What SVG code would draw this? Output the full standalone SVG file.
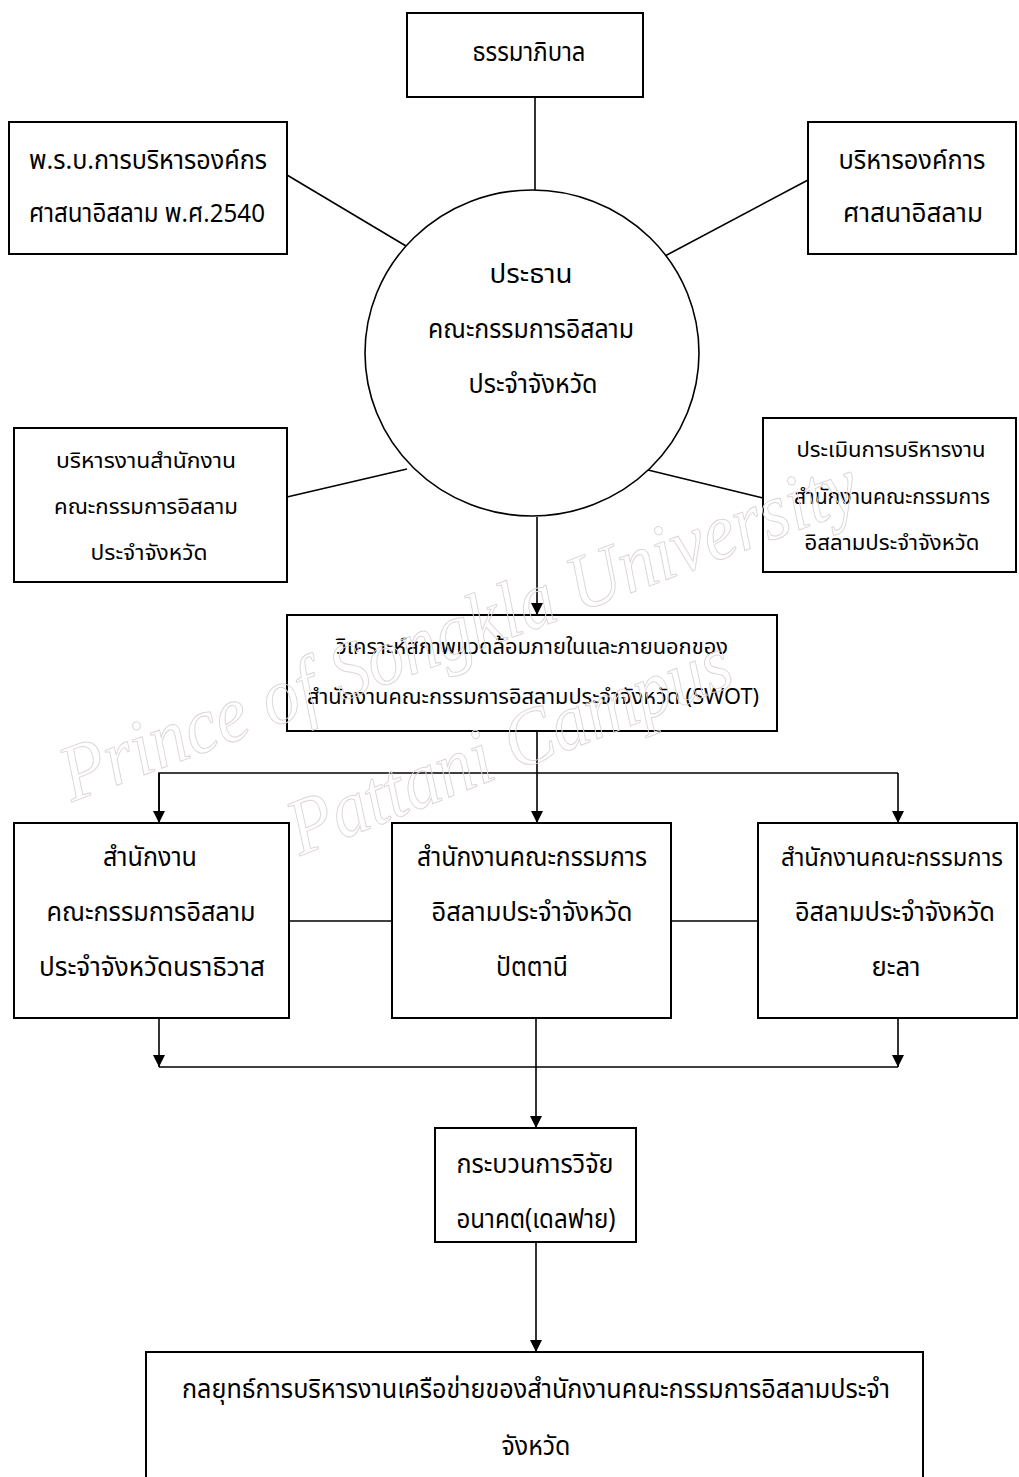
<svg xmlns="http://www.w3.org/2000/svg" width="1019" height="1477" viewBox="0 0 1019 1477">
<style>
.box{fill:#fff;stroke:#000;stroke-width:2}
.ln{fill:none;stroke:#000;stroke-width:1.6}
.t{font-family:"Noto Sans Thai","Noto Serif Thai","Noto Sans","DejaVu Sans",sans-serif;text-anchor:middle;fill:#000}
.l{font-size:26px}
.m{font-size:22px}
.s{font-size:21px}
.b{font-size:27px}
.wm{font-family:"Liberation Serif",serif;font-style:italic;fill:none;stroke:#ddd5d7;stroke-width:1}
</style>
<defs>
<marker id="arr" viewBox="0 0 12 12" refX="12" refY="6" markerWidth="12" markerHeight="12" markerUnits="userSpaceOnUse" orient="auto">
<path d="M0,0 L12,6 L0,12 z" fill="#000"/>
</marker>
</defs>
<rect width="1019" height="1477" fill="#fff"/>
<g id="connectors">
<line class="ln" x1="535" y1="97" x2="535" y2="190"/>
<line class="ln" x1="287" y1="175" x2="406" y2="246"/>
<line class="ln" x1="808" y1="180" x2="665" y2="256"/>
<line class="ln" x1="287" y1="497" x2="407" y2="469"/>
<line class="ln" x1="763" y1="498" x2="648" y2="470"/>
<line class="ln" x1="537" y1="517" x2="537" y2="615" marker-end="url(#arr)"/>
<line class="ln" x1="537" y1="731" x2="537" y2="773"/>
<polyline class="ln" points="159,822 159,773 898,773"/>
<line class="ln" x1="159" y1="773" x2="159" y2="823" marker-end="url(#arr)"/>
<line class="ln" x1="537" y1="773" x2="537" y2="823" marker-end="url(#arr)"/>
<line class="ln" x1="898" y1="773" x2="898" y2="823" marker-end="url(#arr)"/>
<line class="ln" x1="289" y1="921" x2="392" y2="921"/>
<line class="ln" x1="671" y1="921" x2="758" y2="921"/>
<line class="ln" x1="159" y1="1018" x2="159" y2="1067" marker-end="url(#arr)"/>
<line class="ln" x1="898" y1="1018" x2="898" y2="1067" marker-end="url(#arr)"/>
<line class="ln" x1="159" y1="1067" x2="898" y2="1067"/>
<line class="ln" x1="536" y1="1018" x2="536" y2="1128" marker-end="url(#arr)"/>
<line class="ln" x1="536" y1="1242" x2="536" y2="1352" marker-end="url(#arr)"/>
</g>
<g id="n-governance">
<rect class="box" x="407" y="13" width="236" height="84"/>
<text class="t l" x="529" y="61" textLength="113" lengthAdjust="spacingAndGlyphs">ธรรมาภิบาล</text>
</g>
<g id="n-act">
<rect class="box" x="9" y="122" width="278" height="132"/>
<text class="t l" x="148" y="169" textLength="238" lengthAdjust="spacingAndGlyphs">พ.ร.บ.การบริหารองค์กร</text>
<text class="t l" x="147" y="222" textLength="236" lengthAdjust="spacingAndGlyphs">ศาสนาอิสลาม พ.ศ.2540</text>
</g>
<g id="n-org">
<rect class="box" x="808" y="122" width="208" height="132"/>
<text class="t l" x="912" y="169" textLength="147" lengthAdjust="spacingAndGlyphs">บริหารองค์การ</text>
<text class="t l" x="913" y="222" textLength="140" lengthAdjust="spacingAndGlyphs">ศาสนาอิสลาม</text>
</g>
<g id="n-chair">
<ellipse class="box" cx="532" cy="353" rx="167" ry="163" style="stroke-width:1.6"/>
<text class="t l" x="531" y="283" textLength="83" lengthAdjust="spacingAndGlyphs">ประธาน</text>
<text class="t l" x="531" y="338" textLength="206" lengthAdjust="spacingAndGlyphs">คณะกรรมการอิสลาม</text>
<text class="t l" x="533" y="393" textLength="129" lengthAdjust="spacingAndGlyphs">ประจำจังหวัด</text>
</g>
<g id="n-manage">
<rect class="box" x="14" y="428" width="273" height="154"/>
<text class="t m" x="146" y="468" textLength="180" lengthAdjust="spacingAndGlyphs">บริหารงานสำนักงาน</text>
<text class="t m" x="146" y="514" textLength="184" lengthAdjust="spacingAndGlyphs">คณะกรรมการอิสลาม</text>
<text class="t m" x="149" y="560" textLength="117" lengthAdjust="spacingAndGlyphs">ประจำจังหวัด</text>
</g>
<g id="n-evaluate">
<rect class="box" x="763" y="418" width="253" height="154"/>
<text class="t m" x="891" y="457" textLength="189" lengthAdjust="spacingAndGlyphs">ประเมินการบริหารงาน</text>
<text class="t m" x="892" y="504" textLength="196" lengthAdjust="spacingAndGlyphs">สำนักงานคณะกรรมการ</text>
<text class="t m" x="892" y="550" textLength="175" lengthAdjust="spacingAndGlyphs">อิสลามประจำจังหวัด</text>
</g>
<g id="n-swot">
<rect class="box" x="287" y="615" width="490" height="116"/>
<text class="t s" x="532" y="654" textLength="392" lengthAdjust="spacingAndGlyphs">วิเคราะห์สภาพแวดล้อมภายในและภายนอกของ</text>
<text class="t s" x="533" y="704" textLength="452" lengthAdjust="spacingAndGlyphs">สำนักงานคณะกรรมการอิสลามประจำจังหวัด (SWOT)</text>
</g>
<g id="n-narathiwat">
<rect class="box" x="14" y="823" width="275" height="195"/>
<text class="t b" x="150" y="866" textLength="94" lengthAdjust="spacingAndGlyphs">สำนักงาน</text>
<text class="t b" x="151" y="921" textLength="209" lengthAdjust="spacingAndGlyphs">คณะกรรมการอิสลาม</text>
<text class="t b" x="152" y="976" textLength="226" lengthAdjust="spacingAndGlyphs">ประจำจังหวัดนราธิวาส</text>
</g>
<g id="n-pattani">
<rect class="box" x="392" y="823" width="279" height="195"/>
<text class="t b" x="532" y="866" textLength="230" lengthAdjust="spacingAndGlyphs">สำนักงานคณะกรรมการ</text>
<text class="t b" x="532" y="921" textLength="201" lengthAdjust="spacingAndGlyphs">อิสลามประจำจังหวัด</text>
<text class="t b" x="532" y="976" textLength="72" lengthAdjust="spacingAndGlyphs">ปัตตานี</text>
</g>
<g id="n-yala">
<rect class="box" x="758" y="823" width="259" height="195"/>
<text class="t" x="892" y="866" font-size="24" textLength="222" lengthAdjust="spacingAndGlyphs">สำนักงานคณะกรรมการ</text>
<text class="t b" x="895" y="921" textLength="200" lengthAdjust="spacingAndGlyphs">อิสลามประจำจังหวัด</text>
<text class="t b" x="896" y="976" textLength="49" lengthAdjust="spacingAndGlyphs">ยะลา</text>
</g>
<g id="n-delphi">
<rect class="box" x="435" y="1128" width="201" height="114"/>
<text class="t b" x="535" y="1173" textLength="157" lengthAdjust="spacingAndGlyphs">กระบวนการวิจัย</text>
<text class="t b" x="536" y="1228" textLength="159" lengthAdjust="spacingAndGlyphs">อนาคต(เดลฟาย)</text>
</g>
<g id="n-strategy">
<rect class="box" x="146" y="1352" width="777" height="140"/>
<text class="t b" x="536" y="1398" textLength="708" lengthAdjust="spacingAndGlyphs">กลยุทธ์การบริหารงานเครือข่ายของสำนักงานคณะกรรมการอิสลามประจำ</text>
<text class="t b" x="536" y="1455" textLength="69" lengthAdjust="spacingAndGlyphs">จังหวัด</text>
</g>
<g id="watermark">
<text class="wm" font-size="80" transform="translate(72,802) rotate(-20.5)" textLength="845" lengthAdjust="spacingAndGlyphs">Prince of Songkla University</text>
<text class="wm" font-size="80" transform="translate(300,856) rotate(-21.5)" textLength="470" lengthAdjust="spacingAndGlyphs">Pattani Campus</text>
</g>
</svg>
